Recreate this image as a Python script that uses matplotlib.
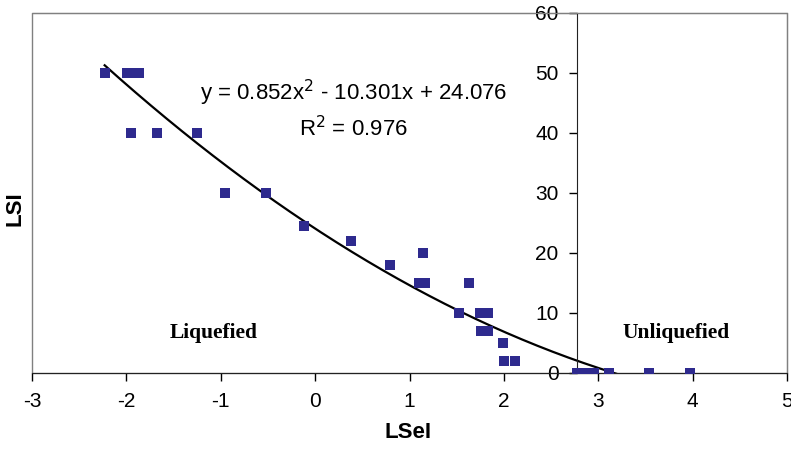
import matplotlib
matplotlib.use("Agg")
import matplotlib.pyplot as plt
import numpy as np
from matplotlib.patches import Rectangle

# observed points (LSeI, LSI)
lsei = [-2.23, -1.99, -1.93, -1.87, -1.95, -1.68, -1.25, -0.95, -0.52, -0.12,
        0.38, 0.79, 1.14, 1.10, 1.16, 1.63, 1.52, 1.75, 1.83, 1.76, 1.83,
        1.99, 2.00, 2.12, 2.78, 2.84, 2.90, 2.95, 3.11, 3.54, 3.97]
lsi = [50, 50, 50, 50, 40, 40, 40, 30, 30, 24.5,
       22, 18, 20, 15, 15, 15, 10, 10, 10, 7, 7,
       5, 2, 2, 0, 0, 0, 0, 0, 0, 0]

# quadratic trend line reported on the chart
coef = [0.852, -10.301, 24.076]
fit_range = (-2.23, 3.2)
axis_cross = 2.77

x_ticks = [-3, -2, -1, 0, 1, 2, 3, 4, 5]
y_ticks = [0, 10, 20, 30, 40, 50, 60]

plt.rcParams["font.family"] = ["Liberation Sans", "DejaVu Sans"]
plt.rcParams["axes.unicode_minus"] = False

fig = plt.figure(figsize=(7.91, 4.51), dpi=100)
ax = fig.add_axes([32 / 791, 1 - 373 / 451, (787 - 32) / 791, (373 - 13) / 451])

xs = np.linspace(fit_range[0], fit_range[1], 200)
ax.plot(xs, np.polyval(coef, xs), color="black", lw=1.6, zorder=2)
ax.scatter(lsei, lsi, marker="s", s=50, color="#2E2A8E", zorder=3, linewidths=0)

ax.set_xlim(-3, 5)
ax.set_ylim(0, 60)
ax.set_xticks(x_ticks)
ax.set_yticks(y_ticks)
ax.tick_params(axis="both", labelsize=15, direction="out", length=6, width=1)
ax.tick_params(axis="x", pad=8)
ax.tick_params(axis="y", pad=7)

ax.spines["left"].set_position(("data", axis_cross))
ax.spines["bottom"].set_position(("data", 0))
for s in ("top", "right"):
    ax.spines[s].set_color("#808080")
ax.spines["left"].set_color("#222222")
ax.spines["bottom"].set_color("#222222")
ax.add_patch(Rectangle((0, 0), 1, 1, transform=ax.transAxes, fill=False,
                       edgecolor="#808080", lw=1, clip_on=False, zorder=0))

ax.text(0.41, 46.6, "y = 0.852x$^2$ - 10.301x + 24.076", fontsize=16,
        ha="center", va="center")
ax.text(0.41, 40.8, "R$^2$ = 0.976", fontsize=16, ha="center", va="center")
ax.text(-1.08, 6.7, "Liquefied", family=["Liberation Serif", "DejaVu Serif"],
        fontsize=15.5, fontweight="bold", ha="center", va="center")
ax.text(3.83, 6.7, "Unliquefied", family=["Liberation Serif", "DejaVu Serif"],
        fontsize=15.5, fontweight="bold", ha="center", va="center")

fig.text(408 / 791, 1 - 433 / 451, "LSeI", fontsize=16, fontweight="bold",
         ha="center", va="center")
fig.text(15 / 791, 1 - 209 / 451, "LSI", fontsize=16, fontweight="bold",
         ha="center", va="center", rotation=90)

fig.savefig("out.png", dpi=100)
